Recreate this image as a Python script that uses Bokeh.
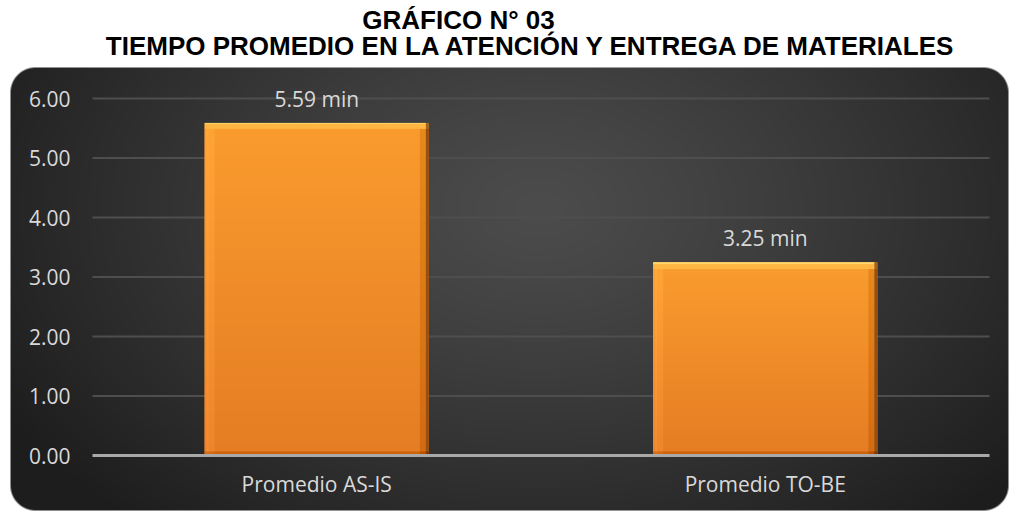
import numpy as np
from bokeh.plotting import figure
from bokeh.models import LinearAxis, FixedTicker, Label, Range1d, ColumnDataSource
from bokeh.core.properties import value
from bokeh.embed import file_html
from bokeh.resources import INLINE

# ---------------- data ----------------
categories = ["Promedio AS-IS", "Promedio TO-BE"]
values = [5.59, 3.25]
unit = "min"
y_ticks = [0, 1, 2, 3, 4, 5, 6]
y_tick_labels = ["0.00", "1.00", "2.00", "3.00", "4.00", "5.00", "6.00"]
title_line1 = "GRÁFICO N° 03"
title_line2 = "TIEMPO PROMEDIO EN LA ATENCIÓN Y ENTREGA DE MATERIALES"

# ---------------- layout (pixels inside the figure) ----------------
W, H = 1010, 511
left_px, right_px = 92, 989
top_px, bottom_px = 98, 455
ymax = y_ticks[-1]
n = len(categories)
px_x = (right_px - left_px) / n
px_y = (bottom_px - top_px) / ymax
x0 = -left_px / px_x
x1 = n + (W - right_px) / px_x
y0 = -(H - bottom_px) / px_y
y1 = ymax + top_px / px_y

p = figure(width=W, height=H, x_range=Range1d(x0, x1), y_range=Range1d(y0, y1),
           output_backend="svg", toolbar_location=None,
           x_axis_location=None, y_axis_location=None, min_border=0,
           outline_line_color=None, background_fill_color="white",
           border_fill_color="white")
for g in p.grid:
    g.visible = False

# ---------------- background (rounded box, radial gradient) ----------------
Yg, Xg = np.mgrid[0:H, 0:W].astype(float) + 0.5
bx0, bx1, by0, by1, rad = 10.0, 1008.0, 67.0, 510.0, 25.0
qx = np.maximum(np.maximum(bx0 + rad - Xg, Xg - (bx1 - rad)), 0)
qy = np.maximum(np.maximum(by0 + rad - Yg, Yg - (by1 - rad)), 0)
inside_x = (Xg >= bx0) & (Xg <= bx1)
inside_y = (Yg >= by0) & (Yg <= by1)
dist = np.sqrt(qx ** 2 + qy ** 2) - rad
dist = np.where((qx > 0) & (qy > 0), dist,
                np.where(inside_x & inside_y, -1.0, np.maximum(
                    np.maximum(bx0 - Xg, Xg - bx1), np.maximum(by0 - Yg, Yg - by1))))
alpha = np.clip(0.5 - dist, 0, 1)
cx, cy, rx, ry = 538.0, 208.0, 620.0, 420.0
d = np.sqrt(((Xg - cx) / rx) ** 2 + ((Yg - cy) / ry) ** 2)
t = np.clip(d, 0, 1) ** 1.2
c_in, c_out = 76.0, 29.0
grey = c_in + (c_out - c_in) * t
rgba = np.zeros((H, W, 4), dtype=np.uint8)
rgba[..., 0] = grey
rgba[..., 1] = grey
rgba[..., 2] = grey
rgba[..., 3] = (alpha * 255).astype(np.uint8)
bg = rgba[::-1].copy().view(dtype=np.uint32).reshape(H, W)
p.image_rgba(image=[bg], x=x0, y=y0, dw=x1 - x0, dh=y1 - y0)

# ---------------- gridlines and base line ----------------
grid_vals = y_ticks[1:]
p.segment(x0=[0] * len(grid_vals), x1=[n] * len(grid_vals), y0=grid_vals, y1=grid_vals,
          line_color="#4e4e4e", line_width=2)

# ---------------- bars ----------------
xc = [i + 0.5 for i in range(n)]
bar_w = 0.5
src = ColumnDataSource(dict(x=xc, top=values, cat=categories,
                            label=[f"{v:.2f} {unit}" for v in values]))
p.vbar(x="x", top="top", bottom=0, width=bar_w, source=src,
       fill_color="#F08C2B", line_color=None)


def bar_image(v):
    h = max(int(round(v * px_y)), 4)
    w = int(round(bar_w * px_x))
    tt = np.linspace(0, 1, h)[:, None]
    top_c = np.array([250, 156, 46], float)
    bot_c = np.array([229, 125, 36], float)
    img = top_c[None, None, :] + (bot_c - top_c)[None, None, :] * tt[..., None]
    img = np.repeat(img, w, axis=1)
    img[:, :10] += 8
    img[:, 2:4] += 6
    img[:, -9:-3] -= 18
    img[:, -3:] = np.array([150, 80, 20])
    img[:7, :] = np.array([255, 182, 66])
    img[:2, :] = np.array([255, 214, 105])
    img[:7, -3:] = np.array([160, 100, 30])
    img[-4:, :] -= 25
    img = np.clip(img, 0, 255)
    out = np.zeros((h, w, 4), dtype=np.uint8)
    out[..., :3] = img.astype(np.uint8)
    out[..., 3] = 255
    return out[::-1].copy().view(dtype=np.uint32).reshape(h, w)


p.image_rgba(image=[bar_image(v) for v in values],
             x=[c - bar_w / 2 for c in xc], y=[0] * n,
             dw=[bar_w] * n, dh=values)

p.segment(x0=[0], x1=[n], y0=[y_ticks[0]], y1=[y_ticks[0]],
          line_color="#a9a9a9", line_width=3)

# ---------------- data labels ----------------
p.text(x="x", y="top", text="label", source=src, text_align="center",
       text_baseline="middle", y_offset=-24, text_color="#d9d9d9",
       text_font=value("Open Sans"), text_font_size="21px")

# ---------------- axes ----------------
yax = LinearAxis(fixed_location=0, ticker=FixedTicker(ticks=y_ticks),
                 major_label_overrides={t_: l for t_, l in zip(y_ticks, y_tick_labels)},
                 axis_line_color=None, major_tick_line_color=None,
                 minor_tick_line_color=None, major_tick_in=0, major_tick_out=0,
                 major_label_standoff=22, major_label_text_color="#d9d9d9",
                 major_label_text_font="Open Sans", major_label_text_font_size="21px")
p.add_layout(yax, "left")

xax = LinearAxis(fixed_location=0, ticker=FixedTicker(ticks=xc),
                 major_label_overrides={c: cat for c, cat in zip(xc, categories)},
                 axis_line_color=None, major_tick_line_color=None,
                 minor_tick_line_color=None, major_tick_in=0, major_tick_out=0,
                 major_label_standoff=14, major_label_text_color="#d9d9d9",
                 major_label_text_font="Open Sans", major_label_text_font_size="21px")
p.add_layout(xax, "below")

# ---------------- title ----------------
p.add_layout(Label(x=458, y=H - 19, x_units="screen", y_units="screen", text=title_line1,
                   text_align="center", text_baseline="middle", text_font="Liberation Sans",
                   text_font_style="bold", text_font_size="26px", text_color="black"))
p.add_layout(Label(x=531, y=H - 45, x_units="screen", y_units="screen", text=title_line2,
                   text_align="center", text_baseline="middle", text_font="Liberation Sans",
                   text_font_style="bold", text_font_size="26px", text_color="black"))

open("out.html", "w").write(file_html(p, INLINE))
